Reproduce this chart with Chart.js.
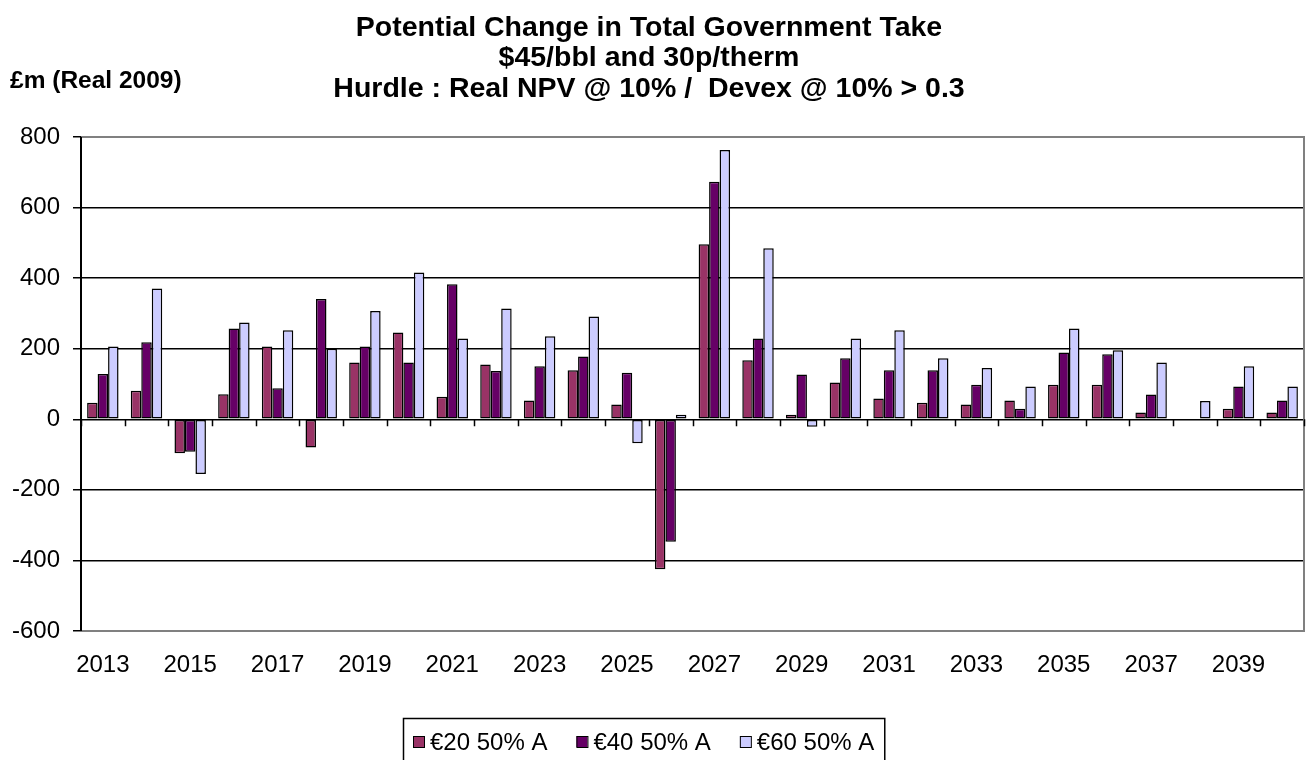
<!DOCTYPE html>
<html>
<head>
<meta charset="utf-8">
<script src="https://cdn.jsdelivr.net/npm/chart.js@4.4.1/dist/chart.umd.min.js"></script>
<style>
  html, body { margin: 0; padding: 0; background: #fff; }
  #wrap { width: 1306px; height: 760px; }
</style>
</head>
<body>
<div id="wrap"><canvas id="chart" width="1306" height="760"></canvas></div>
<script>
const years = ['2013','2014','2015','2016','2017','2018','2019','2020','2021','2022','2023','2024','2025','2026',
               '2027','2028','2029','2030','2031','2032','2033','2034','2035','2036','2037','2038','2039','2040']

const euro20 = [47, 81, -96, 71, 206, -80, 161, 246, 64, 155, 53, 139, 42, -425,
                496, 167, 13, 104, 59, 47, 42, 53, 98, 98, 19, 0, 30, 19]
const euro40 = [128, 218, -92, 257, 88, 341, 206, 161, 383, 137, 150, 178, 132, -347,
                673, 229, 127, 173, 139, 139, 98, 30, 189, 184, 70, 0, 93, 53]
const euro60 = [206, 371, -155, 274, 252, 200, 307, 416, 229, 314, 235, 291, -68, 13,
                763, 485, -21, 229, 252, 173, 145, 93, 257, 196, 161, 52, 150, 93]

const seriesNames = ['€20 50% A', '€40 50% A', '€60 50% A']
const seriesColors = ['#993366', '#660066', '#CCCCFF']

const titleLines = ['Potential Change in Total Government Take', '$45/bbl and 30p/therm',
                    'Hurdle : Real NPV @ 10% /  Devex @ 10% > 0.3']
const unitLabel = '£m (Real 2009)'

const yMin = -600, yMax = 800, yStep = 200

// titre, unité, cadre, petits tirets sur l'axe zéro, légende encadrée
const decorPlugin = {
  id: 'decor',
  afterDraw(chart) {
    const ctx = chart.ctx
    const area = chart.chartArea
    const x = chart.scales.x
    const y = chart.scales.y
    ctx.save()

    // cadre gris (haut, droite, bas)
    ctx.strokeStyle = '#808080'
    ctx.lineWidth = 2
    ctx.beginPath()
    ctx.moveTo(area.left, area.top)
    ctx.lineTo(area.right, area.top)
    ctx.lineTo(area.right, area.bottom)
    ctx.lineTo(area.left, area.bottom)
    ctx.stroke()

    // axe vertical noir
    ctx.strokeStyle = '#000'
    ctx.lineWidth = 2
    ctx.beginPath()
    ctx.moveTo(area.left, area.top)
    ctx.lineTo(area.left, area.bottom)
    ctx.stroke()

    // tirets entre catégories sur la ligne zéro
    const y0 = y.getPixelForValue(0)
    const half = (x.getPixelForValue(1) - x.getPixelForValue(0)) / 2
    ctx.lineWidth = 1.5
    ctx.beginPath()
    for (let i = 0; i <= years.length; i++) {
      const px = Math.round(x.getPixelForValue(i) - half) + 0.5
      ctx.moveTo(px, y0)
      ctx.lineTo(px, y0 + 7)
    }
    ctx.stroke()

    // titre
    ctx.fillStyle = '#000'
    ctx.textAlign = 'center'
    ctx.textBaseline = 'middle'
    ctx.font = 'bold 28.5px "Liberation Sans", Arial, sans-serif'
    titleLines.forEach((t, i) => ctx.fillText(t, 649, 28 + i * 30.5))

    // unité
    ctx.textAlign = 'left'
    ctx.font = 'bold 24.5px "Liberation Sans", Arial, sans-serif'
    ctx.fillText(unitLabel, 10, 81)

    // légende
    ctx.font = '24px "Liberation Sans", Arial, sans-serif'
    const ly = 742
    let lx = 413
    chart.data.datasets.forEach((ds) => {
      ctx.fillStyle = ds.backgroundColor
      ctx.fillRect(lx, ly - 6, 11, 11)
      ctx.strokeStyle = '#000'
      ctx.lineWidth = 1
      ctx.strokeRect(lx + 0.5, ly - 5.5, 11, 11)
      ctx.fillStyle = '#000'
      ctx.fillText(ds.label, lx + 17, ly + 1)
      lx += 17 + ctx.measureText(ds.label).width + 29
    })
    ctx.strokeStyle = '#000'
    ctx.lineWidth = 1.5
    ctx.strokeRect(403.5, 718.5, lx - 403 - 19, 60)

    ctx.restore()
  }
}

new Chart(document.getElementById('chart'), {
  type: 'bar',
  data: {
    labels: years,
    datasets: [
      { label: seriesNames[0], data: euro20, backgroundColor: seriesColors[0] },
      { label: seriesNames[1], data: euro40, backgroundColor: seriesColors[1] },
      { label: seriesNames[2], data: euro60, backgroundColor: seriesColors[2] }
    ].map(d => Object.assign(d, {
      borderColor: '#000',
      borderWidth: 1.5,
      borderSkipped: false,
      categoryPercentage: 0.72,
      barPercentage: 1
    }))
  },
  options: {
    responsive: false,
    animation: false,
    layout: { padding: { left: 0, right: 2, top: 137, bottom: 0 } },
    plugins: {
      legend: { display: false },
      title: { display: false },
      tooltip: { enabled: false }
    },
    scales: {
      x: {
        grid: { display: false, drawTicks: false },
        border: { display: false },
        ticks: {
          autoSkip: false,
          maxRotation: 0,
          padding: 20,
          color: '#000',
          font: { family: '"Liberation Sans", Arial, sans-serif', size: 24 },
          callback: (v, i) => (i % 2 === 0 ? years[i] : '')
        },
        afterFit: (s) => { s.height = 129 }
      },
      y: {
        min: yMin,
        max: yMax,
        ticks: {
          stepSize: yStep,
          padding: 13,
          color: '#000',
          font: { family: '"Liberation Sans", Arial, sans-serif', size: 24 }
        },
        grid: {
          color: (c) => (c.tick && (c.tick.value === yMin || c.tick.value === yMax) ? '#808080' : '#000'),
          lineWidth: 1.5,
          tickLength: 8,
          tickColor: '#000'
        },
        border: { display: true, color: '#000', width: 2 },
        afterFit: (s) => { s.width = 81 }
      }
    }
  },
  plugins: [decorPlugin]
})
</script>
</body>
</html>
